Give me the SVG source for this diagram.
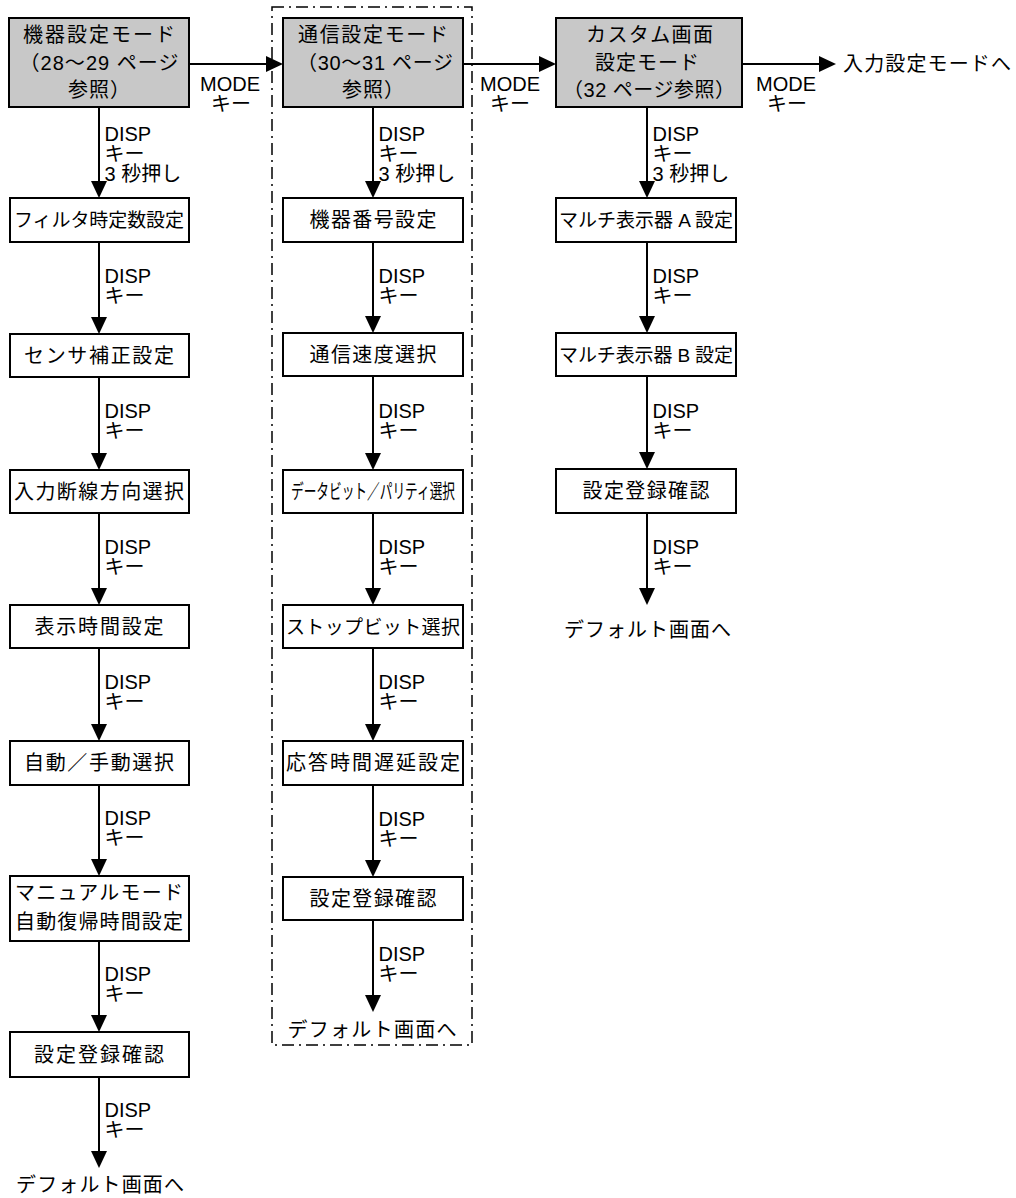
<svg xmlns="http://www.w3.org/2000/svg" width="1016" height="1198" viewBox="0 0 1016 1198">
<style>
.box{fill:#fff;stroke:#000;stroke-width:2}
.hdr{fill:#c8c8c8;stroke:#000;stroke-width:2}
.t{font-family:"Liberation Sans","Noto Sans CJK JP",sans-serif;font-size:20px;fill:#000;text-anchor:middle}
.s{font-size:19px}
.l{font-family:"Liberation Sans","Noto Sans CJK JP",sans-serif;font-size:20px;fill:#000}
.m{text-anchor:middle}
.c{stroke:#000;stroke-width:2;fill:none;marker-end:url(#ah)}
.frame{fill:none;stroke:#000;stroke-width:1.5;stroke-dasharray:12 5 2 5}
</style>
<defs>
<marker id="ah" markerWidth="17" markerHeight="16" refX="9" refY="8" orient="auto" markerUnits="userSpaceOnUse"><path d="M0,0 L17,8 L0,16 z" fill="#000"/></marker>
</defs>
<rect fill="#fff" x="0" y="0" width="1016" height="1198"/>
<rect id="group-frame" class="frame" x="272" y="7" width="200" height="1038"/>

<g id="connectors">
<line class="c" x1="99" y1="107" x2="99" y2="190"/>
<line class="c" x1="99" y1="242" x2="99" y2="326"/>
<line class="c" x1="99" y1="377" x2="99" y2="462"/>
<line class="c" x1="99" y1="513" x2="99" y2="597"/>
<line class="c" x1="99" y1="648" x2="99" y2="733"/>
<line class="c" x1="99" y1="785" x2="99" y2="868"/>
<line class="c" x1="99" y1="941" x2="99" y2="1024"/>
<line class="c" x1="99" y1="1077" x2="99" y2="1160"/>
<line class="c" x1="373" y1="107" x2="373" y2="190"/>
<line class="c" x1="373" y1="242" x2="373" y2="325"/>
<line class="c" x1="373" y1="376" x2="373" y2="462"/>
<line class="c" x1="373" y1="513" x2="373" y2="597"/>
<line class="c" x1="373" y1="648" x2="373" y2="733"/>
<line class="c" x1="373" y1="785" x2="373" y2="869"/>
<line class="c" x1="373" y1="920" x2="373" y2="1004"/>
<line class="c" x1="647" y1="107" x2="647" y2="190"/>
<line class="c" x1="647" y1="242" x2="647" y2="325"/>
<line class="c" x1="647" y1="376" x2="647" y2="461"/>
<line class="c" x1="647" y1="513" x2="647" y2="597"/>
<line class="c" x1="189" y1="64" x2="275" y2="64"/>
<line class="c" x1="463" y1="64" x2="548" y2="64"/>
<line class="c" x1="742" y1="64" x2="828" y2="64"/>
<g id="connector-labels">
<text class="l m" x="230" y="91">MODE</text><text class="l m" x="231" y="111">キー</text>
<text class="l m" x="510" y="91">MODE</text><text class="l m" x="510" y="111">キー</text>
<text class="l m" x="786" y="91">MODE</text><text class="l m" x="787" y="111">キー</text>
<text class="l" x="104.5" y="141">DISP</text><text class="l" x="104.5" y="161">キー</text><text class="l" x="104.5" y="181">3 秒押し</text>
<text class="l" x="104.5" y="283">DISP</text><text class="l" x="104.5" y="303">キー</text>
<text class="l" x="104.5" y="418">DISP</text><text class="l" x="104.5" y="438">キー</text>
<text class="l" x="104.5" y="554">DISP</text><text class="l" x="104.5" y="574">キー</text>
<text class="l" x="104.5" y="689">DISP</text><text class="l" x="104.5" y="709">キー</text>
<text class="l" x="104.5" y="825">DISP</text><text class="l" x="104.5" y="845">キー</text>
<text class="l" x="104.5" y="981">DISP</text><text class="l" x="104.5" y="1001">キー</text>
<text class="l" x="104.5" y="1117">DISP</text><text class="l" x="104.5" y="1137">キー</text>
<text class="l" x="378.5" y="141">DISP</text><text class="l" x="378.5" y="161">キー</text><text class="l" x="378.5" y="181">3 秒押し</text>
<text class="l" x="378.5" y="283">DISP</text><text class="l" x="378.5" y="303">キー</text>
<text class="l" x="378.5" y="418">DISP</text><text class="l" x="378.5" y="438">キー</text>
<text class="l" x="378.5" y="554">DISP</text><text class="l" x="378.5" y="574">キー</text>
<text class="l" x="378.5" y="689">DISP</text><text class="l" x="378.5" y="709">キー</text>
<text class="l" x="378.5" y="826">DISP</text><text class="l" x="378.5" y="846">キー</text>
<text class="l" x="378.5" y="961">DISP</text><text class="l" x="378.5" y="981">キー</text>
<text class="l" x="652.5" y="141">DISP</text><text class="l" x="652.5" y="161">キー</text><text class="l" x="652.5" y="181">3 秒押し</text>
<text class="l" x="652.5" y="283">DISP</text><text class="l" x="652.5" y="303">キー</text>
<text class="l" x="652.5" y="418">DISP</text><text class="l" x="652.5" y="438">キー</text>
<text class="l" x="652.5" y="554">DISP</text><text class="l" x="652.5" y="574">キー</text>
</g>
</g>

<g id="node-kiki-mode">
<rect class="hdr" x="9" y="18" width="180" height="89"/>
<text class="t" x="99" y="42" textLength="152" lengthAdjust="spacing">機器設定モード</text>
<text class="t" x="99" y="70" textLength="159" lengthAdjust="spacing">（28～29 ページ</text>
<text class="t" x="99" y="97" textLength="62" lengthAdjust="spacing">参照）</text>
</g>
<g id="node-filter"><rect class="box" x="10" y="198" width="179" height="44"/><text class="t s" x="99" y="227" textLength="170" lengthAdjust="spacing">フィルタ時定数設定</text></g>
<g id="node-sensor"><rect class="box" x="10" y="334" width="179" height="43"/><text class="t" x="99" y="362.5" textLength="150" lengthAdjust="spacing">センサ補正設定</text></g>
<g id="node-dansen"><rect class="box" x="10" y="470" width="179" height="43"/><text class="t" x="99" y="498.5" textLength="170" lengthAdjust="spacing">入力断線方向選択</text></g>
<g id="node-hyoji"><rect class="box" x="10" y="605" width="179" height="43"/><text class="t" x="99" y="633.5" textLength="129" lengthAdjust="spacing">表示時間設定</text></g>
<g id="node-auto"><rect class="box" x="10" y="741" width="179" height="44"/><text class="t" x="99" y="770" textLength="150" lengthAdjust="spacing">自動／手動選択</text></g>
<g id="node-manual"><rect class="box" x="10" y="876" width="179" height="65"/><text class="t" x="99" y="900" textLength="168" lengthAdjust="spacing">マニュアルモード</text><text class="t" x="99" y="929" textLength="168" lengthAdjust="spacing">自動復帰時間設定</text></g>
<g id="node-toroku1"><rect class="box" x="10" y="1032" width="179" height="45"/><text class="t" x="99" y="1061.5" textLength="130" lengthAdjust="spacing">設定登録確認</text></g>
<g id="node-default1"><text class="t" x="100" y="1192" textLength="168" lengthAdjust="spacing">デフォルト画面へ</text></g>

<g id="node-tsushin-mode">
<rect class="hdr" x="283" y="18" width="180" height="89"/>
<text class="t" x="373" y="42" textLength="150" lengthAdjust="spacing">通信設定モード</text>
<text class="t" x="375" y="70" textLength="156" lengthAdjust="spacing">（30～31 ページ</text>
<text class="t" x="373" y="97" textLength="62" lengthAdjust="spacing">参照）</text>
</g>
<g id="node-kiki-bango"><rect class="box" x="283" y="198" width="180" height="44"/><text class="t" x="373" y="227" textLength="127" lengthAdjust="spacing">機器番号設定</text></g>
<g id="node-sokudo"><rect class="box" x="283" y="333" width="180" height="43"/><text class="t" x="373" y="361.5" textLength="127" lengthAdjust="spacing">通信速度選択</text></g>
<g id="node-databit"><rect class="box" x="283" y="470" width="180" height="43"/><text class="t" x="373" y="498.5" textLength="164" lengthAdjust="spacingAndGlyphs">データビット／パリティ選択</text></g>
<g id="node-stopbit"><rect class="box" x="283" y="605" width="180" height="43"/><text class="t s" x="373" y="633.5" textLength="174" lengthAdjust="spacing">ストップビット選択</text></g>
<g id="node-oto"><rect class="box" x="283" y="741" width="180" height="44"/><text class="t" x="373" y="770" textLength="174" lengthAdjust="spacing">応答時間遅延設定</text></g>
<g id="node-toroku2"><rect class="box" x="283" y="877" width="180" height="43"/><text class="t" x="373" y="905.5" textLength="127" lengthAdjust="spacing">設定登録確認</text></g>
<g id="node-default2"><text class="t" x="372" y="1037" textLength="169" lengthAdjust="spacing">デフォルト画面へ</text></g>

<g id="node-custom-mode">
<rect class="hdr" x="556" y="18" width="186" height="89"/>
<text class="t" x="649.5" y="42" textLength="127" lengthAdjust="spacing">カスタム画面</text>
<text class="t" x="647" y="70" textLength="104" lengthAdjust="spacing">設定モード</text>
<text class="t" x="649" y="97" textLength="172" lengthAdjust="spacing">（32 ページ参照）</text>
</g>
<g id="node-multi-a"><rect class="box" x="556" y="198" width="180" height="44"/><text class="t s" x="646" y="227" textLength="174" lengthAdjust="spacing">マルチ表示器 A 設定</text></g>
<g id="node-multi-b"><rect class="box" x="556" y="333" width="180" height="43"/><text class="t s" x="646" y="361.5" textLength="174" lengthAdjust="spacing">マルチ表示器 B 設定</text></g>
<g id="node-toroku3"><rect class="box" x="556" y="469" width="180" height="44"/><text class="t" x="646" y="498" textLength="127" lengthAdjust="spacing">設定登録確認</text></g>
<g id="node-default3"><text class="t" x="647.5" y="637" textLength="167" lengthAdjust="spacing">デフォルト画面へ</text></g>
<g id="node-input-mode"><text class="l" x="843" y="71" textLength="168" lengthAdjust="spacing">入力設定モードへ</text></g>
</svg>
